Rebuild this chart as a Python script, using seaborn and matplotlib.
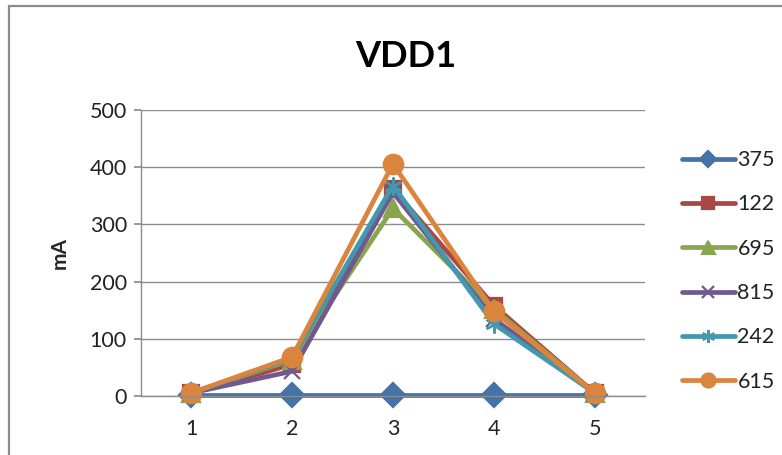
import matplotlib
matplotlib.use("Agg")
import matplotlib.pyplot as plt
import matplotlib.patches as mpatches
import seaborn as sns
import pandas as pd

sns.set_theme(style="white")
plt.rcParams["font.family"] = ["Lato", "DejaVu Sans"]

# Measurement points and per-sample current draw on VDD1 (mA)
points = [1, 2, 3, 4, 5]
s375 = [2, 2, 2, 2, 2]
s122 = [5, 55, 362, 158, 5]
s695 = [5, 63, 328, 152, 5]
s815 = [5, 43, 356, 135, 5]
s242 = [5, 66, 368, 126, 5]
s615 = [5, 68, 406, 148, 5]

series_names = ["375", "122", "695", "815", "242", "615"]
series_vals = [s375, s122, s695, s815, s242, s615]
colors = ["#4572A7", "#AA4643", "#89A54E", "#71588F", "#4198AF", "#DB843D"]
markers = ["D", "s", "^", "x", (6, 2, 0), "o"]
msizes = [12, 12, 13, 12, 13, 14]

rows = []
for name, vals in zip(series_names, series_vals):
    for p, v in zip(points, vals):
        rows.append({"point": p, "mA": v, "sample": name})
df = pd.DataFrame(rows)

fig = plt.figure(figsize=(7.82, 4.55), dpi=100)
ax = fig.add_axes([0.180, 0.130, 0.645, 0.628])

for name, c, m, ms in zip(series_names, colors, markers, msizes):
    sub = df[df["sample"] == name]
    sns.lineplot(data=sub, x="point", y="mA", ax=ax, color=c, marker=m,
                 markersize=ms, linewidth=3.4, markeredgecolor=c,
                 markeredgewidth=1.6, label=name, clip_on=False)

ax.set_xlim(0.5, 5.5)
ax.set_ylim(0, 500)
ax.set_xticks(points)
ax.set_xticklabels([str(p) for p in points])
ax.set_yticks([0, 100, 200, 300, 400, 500])
ax.yaxis.grid(True, color="#8c8c8c", linewidth=1.0)
ax.set_axisbelow(True)
for side in ["top", "right"]:
    ax.spines[side].set_visible(False)
for side in ["left", "bottom"]:
    ax.spines[side].set_color("#8c8c8c")
    ax.spines[side].set_linewidth(1.0)
ax.tick_params(axis="y", which="major", left=True, length=5, color="#8c8c8c",
               labelsize=15.5, pad=5, labelcolor="#222222")
ax.tick_params(axis="x", which="major", bottom=False, labelsize=15.5, pad=11,
               labelcolor="#222222")
ax.set_xlabel("")
ax.set_ylabel("mA", fontsize=15, fontweight="bold", labelpad=14)

fig.text(0.519, 0.875, "VDD1", ha="center", va="center", fontsize=26,
         fontweight="bold", color="black")

leg = ax.legend(loc="upper left", bbox_to_anchor=(1.055, 0.89), frameon=False,
                fontsize=15.5, handlelength=2.5, handletextpad=0.1,
                labelspacing=1.13, borderaxespad=0, markerscale=0.72)
for t in leg.get_texts():
    t.set_color("#222222")

# chart-area frame
frame = mpatches.Rectangle((9 / 782, -0.05), 1.2, (455 - 6) / 455 + 0.05,
                           transform=fig.transFigure, fill=False,
                           edgecolor="#8c8c8c", linewidth=1.6)
fig.patches.append(frame)

fig.savefig("out.png", dpi=100)
